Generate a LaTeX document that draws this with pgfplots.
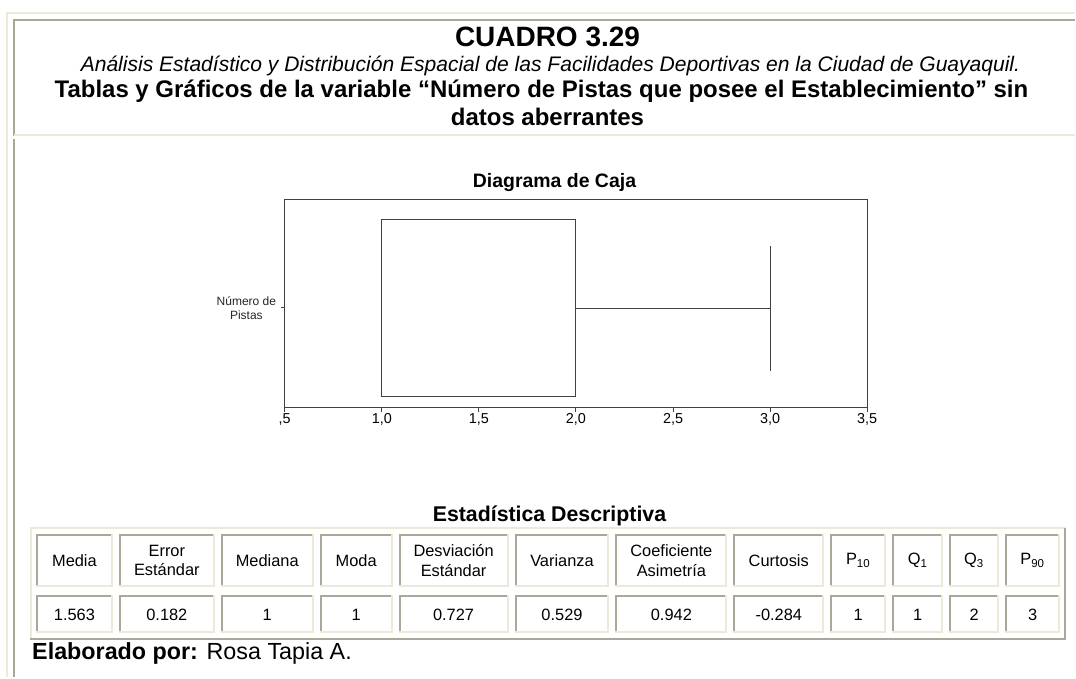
\documentclass[border=0pt]{standalone}
\usepackage{fontspec}
\setmainfont{Liberation Sans}
\usepackage{pgfplots}
\pgfplotsset{compat=1.18}
\usepgfplotslibrary{statistics}
\definecolor{lt}{HTML}{ECE9D8}
\definecolor{dk}{HTML}{ACA899}
\definecolor{ink}{HTML}{404040}

\begin{document}
\begin{tikzpicture}
% page furniture in pixel units (1px = 0.75pt, y downwards)
\begin{scope}[x=0.75pt,y=-0.75pt]
  \fill[white] (0,0) rectangle (1076,678);
  \draw[lt,line width=1.5pt] (7.5,678) -- (7.5,13) -- (1076,13);
  \draw[dk,line width=1.5pt] (14,136) -- (14,20) -- (1076,20);
  \draw[lt,line width=1.5pt] (14,135) -- (1076,135);
  \draw[dk,line width=1.5pt] (14,139) -- (14,678);

  \node[anchor=base,font=\fontsize{21}{25}\selectfont\bfseries] at (548,47) {CUADRO 3.29};
  \node[anchor=base,font=\fontsize{15.8}{19}\selectfont\itshape] at (551,72)
    {Análisis Estadístico y Distribución Espacial de las Facilidades Deportivas en la Ciudad de Guayaquil.};
  \node[anchor=base,font=\fontsize{18}{22}\selectfont\bfseries] at (542,98)
    {Tablas y Gráficos de la variable “Número de Pistas que posee el Establecimiento” sin};
  \node[anchor=base,font=\fontsize{18}{22}\selectfont\bfseries] at (548,126) {datos aberrantes};
  \node[anchor=base,font=\fontsize{14.6}{17}\selectfont\bfseries] at (555,188) {Diagrama de Caja};
  \node[anchor=base,font=\fontsize{16}{19}\selectfont\bfseries] at (550,522) {Estadística Descriptiva};

  % descriptive statistics table
  \draw[lt,line width=1.5pt] (31,641) -- (31,528) -- (1066,528);
  \draw[dk,line width=1.5pt] (1066,528) -- (1066,640) -- (30,640);
  \foreach \xa/\xb/\hd/\vl in {
      36/113/Media/1.563,
      119/215/{Error\\Estándar}/0.182,
      221/314/Mediana/1,
      320/393/Moda/1,
      399/509/{Desviación\\Estándar}/0.727,
      515/610/Varianza/0.529,
      616/728/{Coeficiente\\Asimetría}/0.942,
      734/825/Curtosis/-0.284,
      831/887/P\textsubscript{10}/1,
      893/944/Q\textsubscript{1}/1,
      950/1000/Q\textsubscript{3}/2,
      1006/1061/P\textsubscript{90}/3} {
    \foreach \ya/\yb in {534/588, 596/634} {
      \draw[dk,line width=1.5pt] ({\xa+1},\yb) -- ({\xa+1},{\ya+1}) -- (\xb,{\ya+1});
      \draw[lt,line width=1.5pt] ({\xb-1},\ya) -- ({\xb-1},{\yb-1}) -- (\xa,{\yb-1});
    }
    \node[align=center,inner sep=0pt,font=\fontsize{12.3}{14.5}\selectfont] at ({(\xa+\xb)/2},561) {\hd};
    \node[inner sep=0pt,font=\fontsize{12.3}{14.5}\selectfont] at ({(\xa+\xb)/2},615) {\vl};
  }
  \node[anchor=base west,inner sep=0pt,font=\fontsize{17.5}{21}\selectfont] at (32,660)
    {\textbf{Elaborado por:} Rosa Tapia A.};
\end{scope}

\begin{axis}[
  at={(213.75pt,-306pt)}, anchor=south west,
  scale only axis, width=437.25pt, height=156pt,
  xmin=0.5, xmax=3.5, ymin=0, ymax=1,
  boxplot/draw direction=x,
  xtick={0.5,1,1.5,2,2.5,3,3.5},
  xticklabels={{,5},{1,0},{1,5},{2,0},{2,5},{3,0},{3,5}},
  ytick={0.481}, yticklabels={{Número de\\Pistas}},
  yticklabel style={align=center, font=\fontsize{9}{10.5}\selectfont, text=black!85},
  xticklabel style={font=\fontsize{10.8}{13}\selectfont, inner sep=1pt},
  tick align=outside, xtick pos=left, ytick pos=left,
  major tick length=3pt,
  axis line style={draw=ink, line width=0.75pt},
  tick style={draw=ink, line width=0.75pt},
  /pgf/number format/assume math mode=true,
  clip=false,
]
\addplot[boxplot prepared={lower whisker=1, lower quartile=1, median=1,
    upper quartile=2, upper whisker=3,
    draw position=0.478, box extend=0.851, whisker extend=0.6},
  draw=ink, line width=0.75pt] coordinates {};
\end{axis}
\end{tikzpicture}
\end{document}
